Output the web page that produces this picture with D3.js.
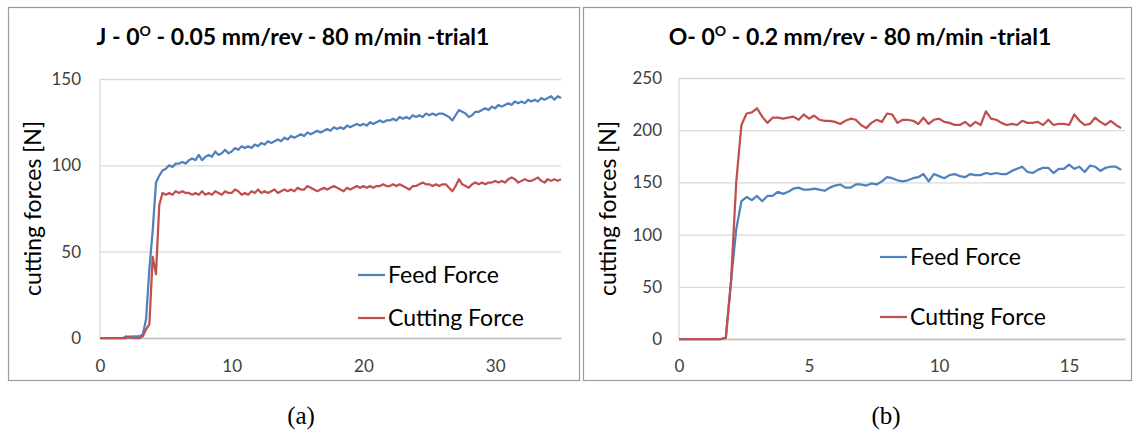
<!DOCTYPE html>
<html>
<head>
<meta charset="utf-8">
<script src="https://cdn.jsdelivr.net/npm/d3@7"></script>
<style>
body { margin: 0; background: #fff; }
text { font-family: Lato, "Open Sans", sans-serif; }
</style>
</head>
<body>
<svg id="chart"></svg>
<script>
// sample spacing of each recording (s)
var dtA = 0.25,
    dtB = 0.2;

// (a) J - 0.05 mm/rev
var feedA = [0,0,0,0,0,0,0,0,1,0,1,1,1,2,
  11,40,62,90,94,97,
  98,100,99,101,101,102,101,103,104,103,
  106,103,105,106,105,108,106,107,109,107,
  108,110,109,111,110,111,110,112,111,113,
  112,114,113,114,115,114,116,115,117,116,
  117,118,117,119,118,119,120,119,120,121,
  120,122,121,122,121,123,122,123,124,123,
  124,123,125,124,125,126,125,126,126,127,
  126,128,127,128,127,129,128,129,128,130,
  129,130,129,130,130,129,128,126,129,132,
  131,130,128,129,131,131,132,133,132,134,
  133,135,134,135,136,135,137,136,137,136,
  138,137,138,137,139,138,139,140,138,140,139];
var cutA = [0,0,0,0,0,0,0,0,0,1,0,0,0,1,
  5,8,47,37,77,84,
  83,84,83,85,84,85,84,84,83,84,
  83,85,83,84,83,85,84,83,85,84,
  84,86,85,83,84,83,85,84,86,84,
  85,84,85,86,84,85,86,85,86,85,
  87,86,86,88,87,86,85,86,87,86,
  87,88,87,86,85,87,86,87,88,87,
  88,87,88,87,88,88,89,88,88,89,
  88,89,88,87,86,88,88,89,90,89,
  89,88,89,88,89,89,87,85,88,92,
  89,88,87,89,90,89,90,89,90,90,
  91,90,91,90,92,93,92,90,91,92,
  91,91,92,93,91,90,92,91,92,91,92];

// (b) O - 0.2 mm/rev
var feedB = [0,0,0,0,0,0,0,0,0,1,
  55,105,132,136,133,137,132,137,137,141,
  139,141,144,145,143,143,144,143,142,145,
  147,148,145,145,148,148,147,149,148,151,
  155,154,152,151,152,154,155,158,151,158,
  156,154,157,158,156,155,158,157,157,159,
  158,159,158,158,161,163,165,160,159,162,
  164,164,159,163,163,167,163,165,160,166,
  165,161,164,165,165,162];
var cutB = [0,0,0,0,0,0,0,0,0,1,
  55,150,205,216,217,221,213,207,212,212,
  211,212,213,210,215,211,214,210,209,209,
  208,206,209,211,210,205,202,207,210,208,
  216,215,207,210,210,209,206,212,206,210,
  211,208,207,205,205,208,204,208,205,218,
  211,210,207,205,206,205,209,207,207,208,
  205,210,205,206,206,205,215,209,205,206,
  212,208,205,209,205,202];

var xTicksA = [0, 10, 20, 30],
    yTicksA = [0, 50, 100, 150],
    xTicksB = [0, 5, 10, 15],
    yTicksB = [0, 50, 100, 150, 200, 250];

var seriesNames = ["Feed Force", "Cutting Force"];
var blue = "#4f81bd", red = "#c0504d";

var svg = d3.select("#chart")
    .attr("width", 1139)
    .attr("height", 435);

svg.append("rect")
    .attr("width", 1139)
    .attr("height", 435)
    .attr("fill", "#fff");

var toPoints = function(vals, dt) {
  return vals.map(function(v, i) { return {x: i * dt, y: v}; });
}

function drawPanel(p) {
  var g = svg.append("g");

  g.append("rect")
      .attr("x", p.frame[0] + 0.5)
      .attr("y", p.frame[1] + 0.5)
      .attr("width", p.frame[2])
      .attr("height", p.frame[3])
      .attr("fill", "none")
      .attr("stroke", "#9a9a9a")
      .attr("stroke-width", 1.2);

  var x = d3.scaleLinear().domain(p.xDomain).range([p.left, p.right]);
  var y = d3.scaleLinear().domain(p.yDomain).range([p.bottom, p.top]);

  // gridlines + y labels
  g.append("g")
      .attr("transform", "translate(" + p.left + ",0)")
      .call(d3.axisLeft(y).tickValues(p.yTicks).tickSize(-(p.right - p.left)).tickPadding(p.yPad))
      .call(g => g.select(".domain").remove())
      .call(g => g.selectAll(".tick line").attr("stroke", "#d9d9d9").attr("stroke-width", 1.3))
      .call(g => g.selectAll(".tick text")
        .attr("fill", "#404040")
        .style("font-size", "17px")
        .style("font-family", "Lato, sans-serif"));

  // y axis line
  g.append("line")
      .attr("x1", p.left).attr("x2", p.left)
      .attr("y1", p.top).attr("y2", p.bottom)
      .attr("stroke", "#d9d9d9")
      .attr("stroke-width", 1.3);

  g.append("g")
      .attr("transform", "translate(0," + p.bottom + ")")
      .call(d3.axisBottom(x).tickValues(p.xTicks).tickSize(0).tickPadding(p.xPad))
      .call(g => g.select(".domain").attr("stroke", "#bfbfbf").attr("stroke-width", 1.5))
      .call(g => g.selectAll(".tick text")
        .attr("fill", "#404040")
        .style("font-size", "17px")
        .style("font-family", "Lato, sans-serif"));

  var line = d3.line()
      .x(d => x(d.x))
      .y(d => y(d.y));

  [[p.feed, blue], [p.cut, red]].forEach(function(s) {
    g.append("path")
        .datum(toPoints(s[0], p.dt))
        .attr("fill", "none")
        .attr("stroke", s[1])
        .attr("stroke-width", 2.25)
        .attr("stroke-linejoin", "round")
        .attr("d", line);
  });

  // title with superscript degree
  var t = g.append("text")
      .attr("x", p.titleX)
      .attr("y", 45)
      .attr("text-anchor", "middle")
      .attr("font-weight", "bold")
      .style("font-size", "23px")
      .attr("fill", "#000");
  t.append("tspan").text(p.title[0]);
  t.append("tspan").attr("dy", -9).style("font-size", "14px").text(p.title[1]);
  t.append("tspan").attr("dy", 9).text(p.title[2]);

  g.append("text")
      .attr("transform", "translate(" + p.yTitleX + "," + ((p.top + p.bottom) / 2) + ") rotate(-90)")
      .attr("text-anchor", "middle")
      .attr("dy", "0.35em")
      .style("font-size", "23px")
      .attr("fill", "#000")
      .text("cutting forces [N]");

  // legend
  seriesNames.forEach(function(name, i) {
    var ly = p.legendY[i];
    g.append("line")
        .attr("x1", p.legendX).attr("x2", p.legendX + 27)
        .attr("y1", ly).attr("y2", ly)
        .attr("stroke", i == 0 ? blue : red)
        .attr("stroke-width", 2.25);
    g.append("text")
        .attr("x", p.legendX + 30)
        .attr("y", ly)
        .attr("dy", "0.35em")
        .style("font-size", "23px")
        .attr("fill", "#000")
        .text(name);
  });

  g.append("text")
      .attr("x", p.captionX)
      .attr("y", 424)
      .attr("text-anchor", "middle")
      .style("font-family", "'Liberation Serif', serif")
      .style("font-size", "25px")
      .attr("fill", "#000")
      .text(p.caption);
}

drawPanel({
  frame: [8, 7, 571, 373],
  left: 100, right: 561, top: 79, bottom: 338,
  xDomain: [0, 35], yDomain: [0, 150],
  xTicks: xTicksA, yTicks: yTicksA,
  yPad: 19, xPad: 22,
  feed: feedA, cut: cutA, dt: dtA,
  title: ["J - 0", "O", " - 0.05 mm/rev - 80 m/min -trial1"],
  titleX: 293, yTitleX: 33,
  legendX: 358, legendY: [275, 318],
  caption: "(a)", captionX: 301
});

drawPanel({
  frame: [583, 7, 548, 373],
  left: 679, right: 1125, top: 78, bottom: 339,
  xDomain: [0, 17.15], yDomain: [0, 250],
  xTicks: xTicksB, yTicks: yTicksB,
  yPad: 17, xPad: 21,
  feed: feedB, cut: cutB, dt: dtB,
  title: ["O- 0", "O", " - 0.2 mm/rev - 80 m/min -trial1"],
  titleX: 860, yTitleX: 608,
  legendX: 880, legendY: [257, 317],
  caption: "(b)", captionX: 886
});
</script>
</body>
</html>
